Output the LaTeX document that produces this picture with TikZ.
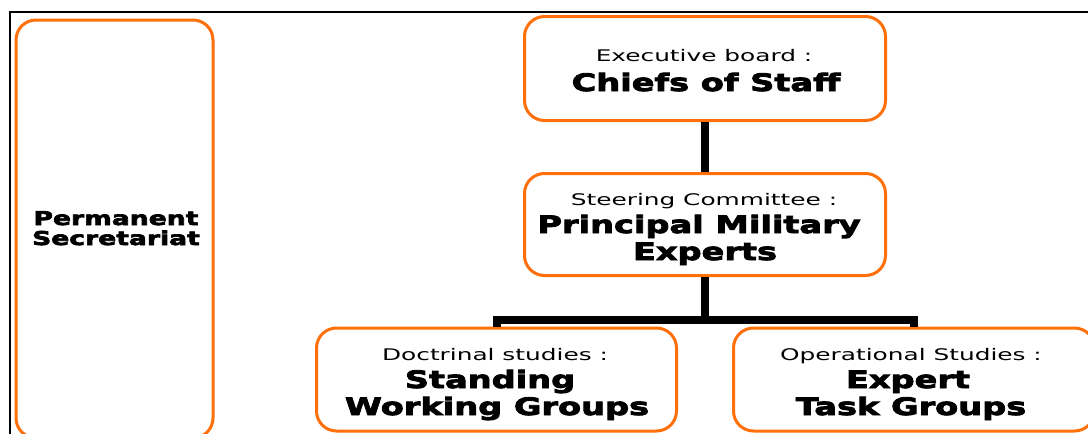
\documentclass[tikz,border=0pt]{standalone}
\usepackage{fontspec}
\setmainfont{DejaVu Sans}
\newfontfamily\labfont[FakeStretch=1.55]{DejaVu Sans}
\newfontfamily\headfont[FakeStretch=1.4,FakeBold=3.5]{DejaVu Sans Bold}
\definecolor{boxorange}{RGB}{255,112,10}
\tikzset{
  orgbox/.style={draw=boxorange, line width=3pt, rounded corners=20pt, fill=white,
    inner sep=0pt},
  lab/.style={anchor=base, inner sep=0pt, font=\labfont\fontsize{16}{18}\selectfont},
  head/.style={anchor=base, inner sep=0pt, font=\headfont\fontsize{24}{26}\selectfont},
  sidehead/.style={anchor=base, inner sep=0pt, font=\headfont\fontsize{19}{21}\selectfont},
  link/.style={line width=8pt},
  frameline/.style={line width=2.6pt},
}
\begin{document}
\begin{tikzpicture}[x=1pt,y=-1pt]
\useasboundingbox (0,0) rectangle (1088,434);
\fill[white] (0,0) rectangle (1088,434);
% outer frame (top and left edges)
\coordinate (ftl) at (10,12);
\coordinate (ftr) at (1090,12);
\coordinate (fbl) at (10,436);
\draw[frameline] (fbl) -- (ftl) -- (ftr);

% side box
\node[orgbox, minimum width=197pt, minimum height=418pt] (sec) at (114.5,229) {};
\node[sidehead] (sec1) at (116,225) {Permanent};
\node[sidehead] (sec2) at (116,245) {Secretariat};

% hierarchy boxes
\node[orgbox, minimum width=361pt, minimum height=104pt] (exec) at (705,68.5) {};
\node[orgbox, minimum width=361pt, minimum height=102pt] (steer) at (705,224.5) {};
\node[orgbox, minimum width=360pt, minimum height=103pt] (doc) at (496.5,379.5) {};
\node[orgbox, minimum width=361pt, minimum height=103pt] (ops) at (914,379.5) {};

% box texts
\node[lab]  (exec1)  at (704,61)  {Executive board :};
\node[head] (exec2)  at (706,91)  {Chiefs of Staff};
\node[lab]  (steer1) at (704,205) {Steering Committee :};
\node[head] (steer2) at (699,233) {Principal Military};
\node[head] (steer3) at (705,260) {Experts};
\node[lab]  (doc1)   at (495,360) {Doctrinal studies :};
\node[head] (doc2)   at (490,388) {Standing};
\node[head] (doc3)   at (497,415) {Working Groups};
\node[lab]  (ops1)   at (911,360) {Operational Studies :};
\node[head] (ops2)   at (908,388) {Expert};
\node[head] (ops3)   at (911,415) {Task Groups};

% connectors
\coordinate (split) at (705,320);
\draw[link] (exec.south) -- (steer.north);
\draw[link] (steer.south) -- (split);
\draw[link] (doc.north) -- (doc.north |- split) -- (ops.north |- split) -- (ops.north);
\end{tikzpicture}
\end{document}
